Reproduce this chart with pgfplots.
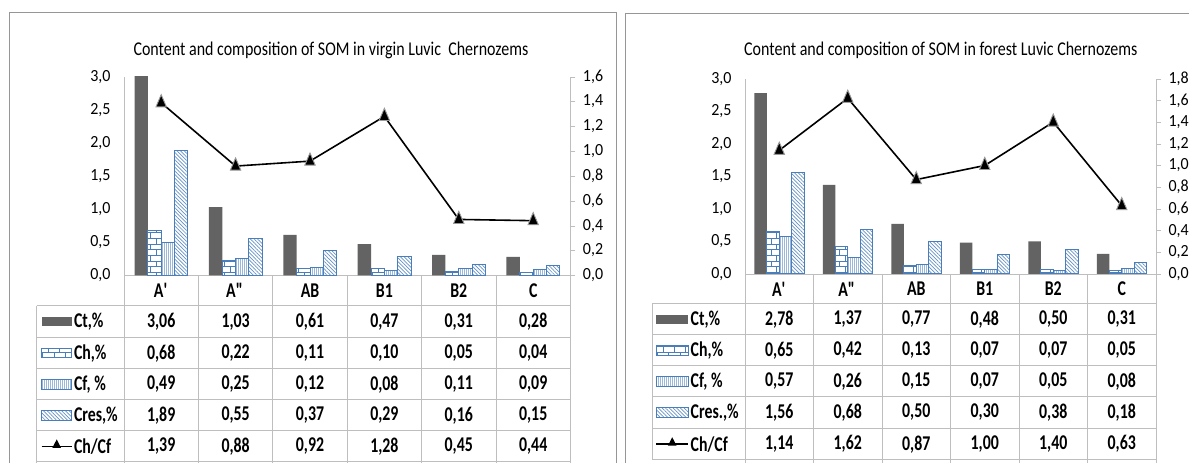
\documentclass[border=0pt]{standalone}
\usepackage{fontspec}
\setmainfont{Carlito}
\newfontfamily\titlefont{Carlito}[FakeStretch=0.82]
\newfontfamily\tickfont{Carlito}[FakeStretch=0.94]
\newfontfamily\tabfont{Carlito}[FakeStretch=0.755]
\usepackage{pgfplots}
\usepackage{pgfplotstable}
\pgfplotsset{compat=1.18}
\usetikzlibrary{patterns, patterns.meta}

\definecolor{ctgray}{RGB}{99,99,99}
\definecolor{barblue}{RGB}{74,126,187}
\definecolor{framegray}{RGB}{150,150,150}
\definecolor{gridgray}{RGB}{190,190,190}

% virgin Luvic Chernozems
\pgfplotstableread{
idx Ct   Ch   Cf   Cres ChCf
0   3.06 0.68 0.49 1.89 1.39
1   1.03 0.22 0.25 0.55 0.88
2   0.61 0.11 0.12 0.37 0.92
3   0.47 0.10 0.08 0.29 1.28
4   0.31 0.05 0.11 0.16 0.45
5   0.28 0.04 0.09 0.15 0.44
}\virgin

% forest Luvic Chernozems
\pgfplotstableread{
idx Ct   Ch   Cf   Cres ChCf
0   2.78 0.65 0.57 1.56 1.14
1   1.37 0.42 0.26 0.68 1.62
2   0.77 0.13 0.15 0.50 0.87
3   0.48 0.07 0.07 0.30 1.00
4   0.50 0.07 0.05 0.38 1.40
5   0.31 0.05 0.08 0.18 0.63
}\forest

\tikzset{
  ctbar/.style={fill=ctgray, draw=none},
  chbar/.style={draw=barblue, line width=1pt, pattern=bricks, pattern color=barblue},
  cfbar/.style={draw=barblue, line width=1pt,
    pattern={Lines[angle=90, distance=2pt, line width=0.7pt]}, pattern color=barblue!55},
  cresbar/.style={draw=barblue, line width=1pt,
    pattern={Lines[angle=-45, distance=2.6pt, line width=0.7pt]}, pattern color=barblue!85},
  tabtext/.style={font=\tabfont\bfseries\fontsize{21}{23}\selectfont},
  titletext/.style={font=\titlefont\fontsize{19.5}{22}\selectfont},
  grid line/.style={gridgray, line width=1pt},
}

\pgfplotsset{
  panel/.style={scale only axis, xmin=-0.5, xmax=5.5, ymin=0,
    tick label style={font=\tickfont\fontsize{17}{19}\selectfont},
    /pgf/number format/use comma, /pgf/number format/fixed,
    /pgf/number format/fixed zerofill, /pgf/number format/precision=1,
    /pgf/number format/assume math mode=true},
  barsaxis/.style={panel, ybar=0pt, ymax=3,
    ytick={0,0.5,...,3}, axis y line*=left, axis x line*=bottom, xtick=\empty,
    axis line style={gridgray,-}, major tick length=0pt, yticklabel style={xshift=-10pt}},
  lineaxis/.style={panel, axis y line*=right, axis x line=none, xtick=\empty,
    tick align=outside, major tick length=5pt, tick style={gridgray},
    axis line style={gridgray,-}, yticklabel style={xshift=4pt}},
  tabaxis/.style={panel, hide axis, clip=false},
  tabrow/.style={only marks, mark=none, point meta=explicit,
    nodes near coords={\pgfmathprintnumber[fixed,fixed zerofill,precision=2,use comma]{\pgfplotspointmeta}},
    nodes near coords style={anchor=center, black, tabtext}},
  ratio/.style={black, line width=1.6pt, mark=triangle*, mark size=6pt,
    mark options={fill=black, draw=gray!80, line width=0.9pt, solid, yscale=1.35}},
}

\begin{document}
\begin{tikzpicture}
\useasboundingbox (0,0) rectangle (1189pt,463pt);
\clip (0,0) rectangle (1189pt,463pt);

% ---------------- left panel ----------------
\draw[framegray, line width=1pt] (9.3pt,-5pt) -- (9.3pt,450.3pt) -- (616pt,450.3pt) -- (616pt,-5pt);
\node[titletext] at (331pt,413pt)
  {Content and composition of SOM in virgin Luvic\ \ Chernozems};

\begin{axis}[barsaxis, at={(124pt,187.7pt)}, anchor=south west, width=446.4pt, height=198.6pt,
    bar width=13.35pt]
  \addplot[ctbar] table[x=idx, y=Ct] \virgin;
  \addplot[chbar] table[x=idx, y=Ch] \virgin;
  \addplot[cfbar] table[x=idx, y=Cf] \virgin;
  \addplot[cresbar] table[x=idx, y=Cres] \virgin;
\end{axis}
\begin{axis}[lineaxis, at={(124pt,187.7pt)}, anchor=south west, width=446.4pt, height=198.6pt,
    ymax=1.6, ytick={0,0.2,...,1.6}]
  \addplot[ratio] table[x=idx, y=ChCf] \virgin;
\end{axis}
\begin{axis}[tabaxis, at={(124pt,187.7pt)}, anchor=south west, width=446.4pt, height=198.6pt, ymax=198.6]
  \addplot[tabrow] table[x=idx, y expr=-46.4, meta=Ct] \virgin;
  \addplot[tabrow] table[x=idx, y expr=-77.9, meta=Ch] \virgin;
  \addplot[tabrow] table[x=idx, y expr=-109.2, meta=Cf] \virgin;
  \addplot[tabrow] table[x=idx, y expr=-140.2, meta=Cres] \virgin;
  \addplot[tabrow] table[x=idx, y expr=-171.1, meta=ChCf] \virgin;
\end{axis}

% table grid
\foreach \x in {124,198.4,272.8,347.2,421.6,496,570.4}
  \draw[grid line] (\x pt,187.7pt) -- (\x pt,0pt);
\draw[grid line] (36.7pt,157pt) -- (36.7pt,0pt);
\foreach \y in {157,125.7,94,63,32,1.3}
  \draw[grid line] (36.7pt,\y pt) -- (570.4pt,\y pt);
\foreach \x/\l in {161.2/A\textquotesingle, 235.6/A\textquotedbl, 310/AB, 384.4/B1, 458.8/B2, 533.2/C}
  \node[tabtext] at (\x pt,172.3pt) {\l};
% legend keys
\begin{scope}[tabtext]
  \fill[ctgray] (41.7pt,136.6pt) rectangle (71.7pt,146pt);
  \node[anchor=west, inner sep=1pt] at (72.8pt,141.3pt) {Ct,\%};
  \draw[chbar] (41.7pt,105.1pt) rectangle (71.7pt,114.5pt);
  \node[anchor=west, inner sep=1pt] at (72.8pt,109.8pt) {Ch,\%};
  \draw[cfbar] (41.7pt,73.8pt) rectangle (71.7pt,83.2pt);
  \node[anchor=west, inner sep=1pt] at (72.8pt,78.5pt) {Cf, \%};
  \draw[cresbar] (41.7pt,42.8pt) rectangle (71.7pt,52.2pt);
  \node[anchor=west, inner sep=1pt] at (72.8pt,47.5pt) {Cres,\%};
  \draw[black, line width=1.6pt] (41.7pt,16.6pt) -- (71.7pt,16.6pt);
  \fill[black] (56.7pt,17.6pt) +(90:6pt) -- +(210:5pt) -- +(330:5pt) -- cycle;
  \node[anchor=west, inner sep=1pt] at (72.8pt,16.6pt) {Ch/Cf};
\end{scope}

% ---------------- right panel ----------------
\draw[framegray, line width=1pt] (625pt,-5pt) -- (625pt,449pt) -- (1195pt,449pt);
\node[titletext] at (940.8pt,413pt)
  {Content and composition of SOM in forest Luvic Chernozems};

\begin{axis}[barsaxis, at={(745pt,189pt)}, anchor=south west, width=411pt, height=195.3pt,
    bar width=12.4pt]
  \addplot[ctbar] table[x=idx, y=Ct] \forest;
  \addplot[chbar] table[x=idx, y=Ch] \forest;
  \addplot[cfbar] table[x=idx, y=Cf] \forest;
  \addplot[cresbar] table[x=idx, y=Cres] \forest;
\end{axis}
\begin{axis}[lineaxis, at={(745pt,189pt)}, anchor=south west, width=411pt, height=195.3pt,
    ymax=1.8, ytick={0,0.2,...,1.8}]
  \addplot[ratio] table[x=idx, y=ChCf] \forest;
\end{axis}
\begin{axis}[tabaxis, at={(745pt,189pt)}, anchor=south west, width=411pt, height=195.3pt, ymax=195.3]
  \addplot[tabrow] table[x=idx, y expr=-45.5, meta=Ct] \forest;
  \addplot[tabrow] table[x=idx, y expr=-76.5, meta=Ch] \forest;
  \addplot[tabrow] table[x=idx, y expr=-107.4, meta=Cf] \forest;
  \addplot[tabrow] table[x=idx, y expr=-138.5, meta=Cres] \forest;
  \addplot[tabrow] table[x=idx, y expr=-170.2, meta=ChCf] \forest;
\end{axis}

\foreach \x in {745,813.5,882,950.5,1019,1087.5,1156}
  \draw[grid line] (\x pt,189pt) -- (\x pt,0pt);
\draw[grid line] (652.3pt,159pt) -- (652.3pt,3pt);
\foreach \y in {159,128,97,66.3,34.7,3}
  \draw[grid line] (652.3pt,\y pt) -- (1156pt,\y pt);
\foreach \x/\l in {779.25/A\textquotesingle, 847.75/A\textquotedbl, 916.25/AB, 984.75/B1, 1053.25/B2, 1121.75/C}
  \node[tabtext] at (\x pt,174pt) {\l};
\begin{scope}[tabtext]
  \fill[ctgray] (656pt,138.8pt) rectangle (688.3pt,148.2pt);
  \node[anchor=west, inner sep=1pt] at (689.5pt,143.5pt) {Ct,\%};
  \draw[chbar] (656pt,107.8pt) rectangle (688.3pt,117.2pt);
  \node[anchor=west, inner sep=1pt] at (689.5pt,112.5pt) {Ch,\%};
  \draw[cfbar] (656pt,76.9pt) rectangle (688.3pt,86.3pt);
  \node[anchor=west, inner sep=1pt] at (689.5pt,81.6pt) {Cf, \%};
  \draw[cresbar] (656pt,45.8pt) rectangle (688.3pt,55.2pt);
  \node[anchor=west, inner sep=1pt] at (689.5pt,50.5pt) {Cres.,\%};
  \draw[black, line width=1.6pt] (656pt,18.8pt) -- (688.3pt,18.8pt);
  \fill[black] (672.2pt,19.8pt) +(90:6pt) -- +(210:5pt) -- +(330:5pt) -- cycle;
  \node[anchor=west, inner sep=1pt] at (689.5pt,18.8pt) {Ch/Cf};
\end{scope}
\end{tikzpicture}
\end{document}
